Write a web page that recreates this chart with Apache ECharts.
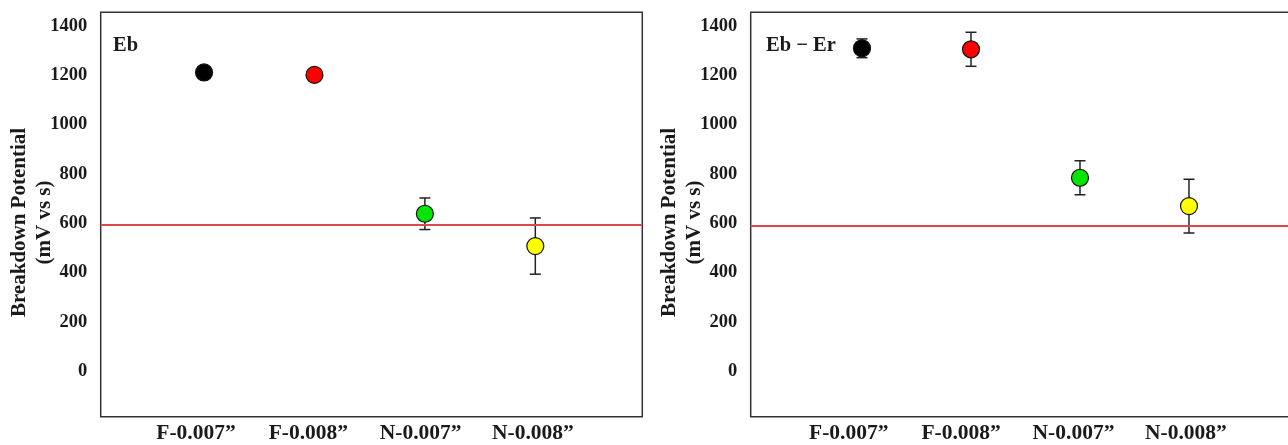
<!DOCTYPE html>
<html>
<head>
<meta charset="utf-8">
<script src="https://cdn.jsdelivr.net/npm/echarts@6/dist/echarts.min.js"></script>
<style>html,body{margin:0;padding:0;background:#fff;}#c{width:1288px;height:445px;}</style>
</head>
<body>
<div id="c"></div>
<script>
const categories = ['F-0.007\u201d', 'F-0.008\u201d', 'N-0.007\u201d', 'N-0.008\u201d'];
const positions = [1, 2, 3, 4];
const ebMean = [1211, 1201, 638, 507];
const ebErr = [8, 25, 64, 114];
const ebErMean = [1309, 1305, 784, 669];
const ebErErr = [38, 69, 69, 109];
const markerColors = ['#000000', '#ff0000', '#00e600', '#ffff00'];
const yTicks = [0, 200, 400, 600, 800, 1000, 1200, 1400];
const thresholds = [595, 589];
const panelLabels = ['Eb', 'Eb \u2212 Er'];
const yTitle = 'Breakdown Potential\n(mV vs s)';

const FONT = "'Liberation Serif', 'Times New Roman', serif";
const TXT = '#1a1a1a';

function errData(mean, err) { return mean.map((v, i) => [positions[i], v, err[i]]); }
function ptData(mean) {
  return mean.map((v, i) => ({ value: [positions[i], v], itemStyle: { color: markerColors[i] } }));
}
function renderErr(params, api) {
  const x = api.value(0), y = api.value(1), e = api.value(2);
  const t = api.coord([x, y + e]), b = api.coord([x, y - e]);
  const hw = 5.5;
  const st = { stroke: '#222', lineWidth: 1.5 };
  return { type: 'group', children: [
    { type: 'line', shape: { x1: t[0], y1: t[1], x2: b[0], y2: b[1] }, style: st },
    { type: 'line', shape: { x1: t[0] - hw, y1: t[1], x2: t[0] + hw, y2: t[1] }, style: st },
    { type: 'line', shape: { x1: b[0] - hw, y1: b[1], x2: b[0] + hw, y2: b[1] }, style: st }
  ]};
}

const grids = [
  { left: 100.7, top: 12.3, width: 541.6, height: 404.4 },
  { left: 750.7, top: 12.3, width: 545, height: 404.4 }
];
const dataX = [[0.064, 4.969], [-0.021, 4.979]];
const labelX = [[0.151, 4.974], [0.128, 4.977]];

const option = {
  backgroundColor: '#fff',
  animation: false,
  title: panelLabels.map((t, i) => ({
    text: t, left: i === 0 ? 113 : 766, top: 35, padding: 0,
    textStyle: { fontFamily: FONT, fontWeight: 'bold', fontSize: 20.5, color: TXT }
  })),
  grid: grids.map(g => Object.assign({ show: true, borderColor: '#333', borderWidth: 1.5, backgroundColor: 'transparent', containLabel: false, outerBoundsMode: 'none' }, g)),
  xAxis: [0, 1].flatMap(i => [
    { type: 'value', gridIndex: i, min: dataX[i][0], max: dataX[i][1], show: false },
    { type: 'value', gridIndex: i, min: labelX[i][0], max: labelX[i][1], position: 'bottom',
      axisLine: { show: false }, axisTick: { show: false }, splitLine: { show: false },
      axisLabel: { customValues: positions, formatter: v => categories[Math.round(v) - 1] || '',
        margin: 6, fontFamily: FONT, fontWeight: 'bold', fontSize: 21.5, color: TXT } }
  ]),
  yAxis: [0, 1].map(i => ({
    type: 'value', gridIndex: i, min: -185, max: 1455,
    axisLine: { show: false }, axisTick: { show: false }, splitLine: { show: false },
    axisLabel: { customValues: yTicks, formatter: v => String(v), margin: 13.5, fontFamily: FONT, fontWeight: 'bold', fontSize: 18.5, color: TXT },
    name: yTitle, nameLocation: 'middle', nameRotate: 90, nameGap: 44, nameMoveOverlap: false,
    nameTextStyle: { fontFamily: FONT, fontWeight: 'bold', fontSize: 21, lineHeight: 25, color: TXT, align: 'center', padding: [0, 16, 0, 0] }
  })),
  series: [
    { type: 'custom', xAxisIndex: 0, yAxisIndex: 0, renderItem: renderErr, data: errData(ebMean, ebErr), z: 2 },
    { type: 'scatter', xAxisIndex: 0, yAxisIndex: 0, data: ptData(ebMean), symbolSize: 17, z: 3,
      itemStyle: { borderColor: '#111', borderWidth: 1.2, opacity: 1 },
      markLine: { silent: true, symbol: 'none', label: { show: false },
        lineStyle: { color: '#e04848', width: 2, type: 'solid' }, data: [{ yAxis: thresholds[0] }] } },
    { type: 'custom', xAxisIndex: 2, yAxisIndex: 1, renderItem: renderErr, data: errData(ebErMean, ebErErr), z: 2 },
    { type: 'scatter', xAxisIndex: 2, yAxisIndex: 1, data: ptData(ebErMean), symbolSize: 17, z: 3,
      itemStyle: { borderColor: '#111', borderWidth: 1.2, opacity: 1 },
      markLine: { silent: true, symbol: 'none', label: { show: false },
        lineStyle: { color: '#e04848', width: 2, type: 'solid' }, data: [{ yAxis: thresholds[1] }] } }
  ]
};
const chart = echarts.init(document.getElementById('c'), null, { renderer: 'canvas' });
chart.setOption(option);
</script>
</body>
</html>
